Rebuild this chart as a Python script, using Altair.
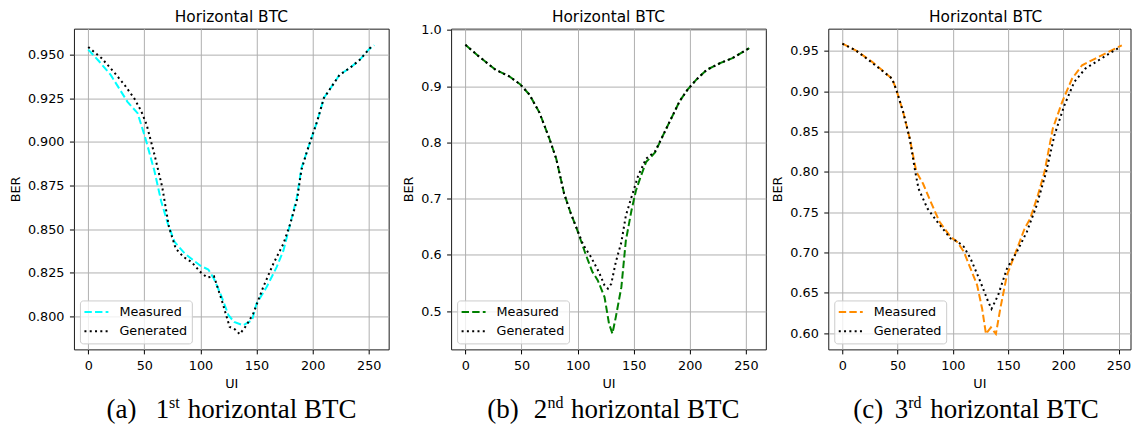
import altair as alt
import pandas as pd

# ---------------- data ----------------
ui_ticks = [0, 50, 100, 150, 200, 250]

p1_meas_x = [0, 10, 20, 35, 44, 51, 59, 65, 71, 77, 86, 92, 100, 107, 112, 119, 125, 130, 138, 146,
             150, 159, 168, 174, 180, 186, 190, 195, 199, 204, 210, 216, 224, 233, 242, 250, 255]
p1_meas_y = [0.953, 0.946, 0.9385, 0.923, 0.9165, 0.902, 0.8833, 0.866, 0.853, 0.8426, 0.836, 0.833,
             0.829, 0.8268, 0.8216, 0.811, 0.8006, 0.7967, 0.7948, 0.7977, 0.8073, 0.8168, 0.8283,
             0.8378, 0.853, 0.8684, 0.885, 0.8947, 0.9023, 0.9118, 0.9252, 0.9309, 0.9385, 0.9424,
             0.9471, 0.953, 0.9555]
p1_gen_x = [0, 12, 23, 32, 41, 47, 52, 59, 66, 72, 78, 85, 92, 100, 106, 112, 119, 126, 131, 135,
            141, 147, 156, 165, 174, 180, 186, 190, 195, 199, 204, 210, 216, 224, 233, 242, 252]
p1_gen_y = [0.9545, 0.948, 0.940, 0.933, 0.925, 0.918, 0.910, 0.8928, 0.8739, 0.851, 0.8388, 0.834,
            0.8311, 0.8254, 0.8222, 0.823, 0.8092, 0.7939, 0.7924, 0.7897, 0.7948, 0.8015, 0.8168,
            0.8302, 0.8417, 0.853, 0.8665, 0.884, 0.8947, 0.9023, 0.9118, 0.9252, 0.9309, 0.9385,
            0.9424, 0.9471, 0.9545]
p1_ticks = [0.800, 0.825, 0.850, 0.875, 0.900, 0.925, 0.950]

p2_meas_x = [0, 12, 27, 39, 49, 57, 66, 75, 81, 88, 94, 99, 107, 113, 118, 124, 128, 131, 134, 139,
             143, 148, 152, 156, 161, 169, 176, 183, 191, 198, 206, 215, 227, 238, 253]
p2_meas_y = [0.9735, 0.953, 0.929, 0.9176, 0.903, 0.8853, 0.853, 0.806, 0.7706, 0.7087, 0.6735,
             0.648, 0.602, 0.5706, 0.5546, 0.525, 0.4776, 0.46, 0.489, 0.5427, 0.6256, 0.679,
             0.7145, 0.738, 0.765, 0.782, 0.812, 0.841, 0.8735, 0.894, 0.912, 0.929, 0.941, 0.95,
             0.9676]
p2_gen_x = [0, 12, 27, 39, 49, 57, 66, 75, 81, 88, 94, 99, 105, 112, 119, 124, 127, 130, 134, 139,
            143, 148, 154, 161, 169, 176, 183, 191, 198, 206, 215, 227, 238, 253]
p2_gen_y = [0.9735, 0.953, 0.929, 0.9176, 0.903, 0.8853, 0.853, 0.806, 0.7706, 0.7087, 0.6735,
            0.648, 0.618, 0.596, 0.5693, 0.5457, 0.54, 0.5487, 0.587, 0.6226, 0.67, 0.7026, 0.741,
            0.771, 0.784, 0.812, 0.841, 0.8735, 0.894, 0.912, 0.929, 0.941, 0.95, 0.9676]
p2_ticks = [0.5, 0.6, 0.7, 0.8, 0.9, 1.0]

p3_meas_x = [0, 12, 27, 45, 49, 55, 61, 67, 73, 80, 88, 98, 104, 110, 116, 122, 126.5, 130, 134.5,
             139, 143, 149, 156, 165, 170, 177, 183, 190.5, 199, 208, 217, 229, 241, 253]
p3_meas_y = [0.959, 0.9508, 0.9364, 0.9157, 0.9012, 0.8744, 0.8413, 0.80, 0.7855, 0.7628, 0.738,
             0.7194, 0.7132, 0.7008, 0.6802, 0.6595, 0.6306, 0.599, 0.607, 0.599, 0.6306, 0.672,
             0.6967, 0.7297, 0.742, 0.771, 0.80, 0.8537, 0.8868, 0.9157, 0.9322, 0.9405, 0.9488,
             0.957]
p3_gen_x = [0, 12, 24, 45, 49, 55, 61, 66, 69, 77, 86, 98, 104, 110, 116, 125, 132, 135, 141, 149,
            158, 167, 176, 184.5, 192, 201, 210, 220, 232, 244, 252]
p3_gen_y = [0.959, 0.9508, 0.9384, 0.9157, 0.9012, 0.8744, 0.8413, 0.80, 0.779, 0.7546, 0.738,
            0.7173, 0.714, 0.707, 0.6926, 0.6636, 0.639, 0.630, 0.647, 0.680, 0.7008, 0.7256,
            0.7587, 0.80, 0.8455, 0.8826, 0.9116, 0.9281, 0.9384, 0.9488, 0.955]
p3_ticks = [0.60, 0.65, 0.70, 0.75, 0.80, 0.85, 0.90, 0.95]

series = ["Measured", "Generated"]
captions = [("(a)", "1", "st"), ("(b)", "2", "nd"), ("(c)", "3", "rd")]
caption_rest = "horizontal BTC"
panel_title = "Horizontal BTC"

# ---------------- styling / layout ----------------
H = 321
FS = 12.8          # tick / label / legend font size
CAP_F = 27
SUP_F = 16
CAP_Y = H + 69
# x offsets (from each plot's left edge) of caption pieces: label, number, superscript, rest
CAP_X = [[32.7, 82.0, 95.2, 114.0], [36.2, 82.7, 96.5, 120.0], [25.0, 66.5, 80.0, 102.0]]
LEG_SYMBOL = "M-1.1667,0H2.8333"


def text_layer(txt, x, y, **kw):
    return (alt.Chart(pd.DataFrame({"t": [txt]}))
            .mark_text(baseline="alphabetic", color="black", **kw)
            .encode(text="t:N", x=alt.value(x), y=alt.value(y)))


def caption_layers(cap, xs):
    lab, num, sup = cap
    parts = [(lab, CAP_F, 0), (num, CAP_F, 0), (sup, SUP_F, -10), (caption_rest, CAP_F, 0)]
    return [text_layer(txt, xx, CAP_Y, font="Liberation Serif", fontSize=fs, align="left", dy=dy)
            for (txt, fs, dy), xx in zip(parts, xs)]


def panel(mx, my, gx, gy, color, ydom, yticks, yfmt, cap, cap_x, width, xdom):
    df = pd.concat([
        pd.DataFrame({"UI": mx, "BER": my, "s": "Measured"}),
        pd.DataFrame({"UI": gx, "BER": gy, "s": "Generated"}),
    ])
    leg = alt.Legend(title=None, orient="bottom-left", offset=6, symbolType=LEG_SYMBOL,
                     symbolSize=144, symbolStrokeWidth=2, labelFontSize=FS,
                     labelFont="DejaVu Sans", labelColor="black", labelOffset=21,
                     padding=4.5, rowPadding=5.3, fillColor="rgba(255,255,255,0.8)",
                     strokeColor="#cccccc", cornerRadius=3)
    lines = alt.Chart(df).mark_line(strokeWidth=2, strokeCap="butt").encode(
        x=alt.X("UI:Q", scale=alt.Scale(domain=xdom, nice=False, zero=False),
                axis=alt.Axis(values=ui_ticks, title="UI", titlePadding=5, labelFlush=False)),
        y=alt.Y("BER:Q", scale=alt.Scale(domain=ydom, nice=False, zero=False),
                axis=alt.Axis(values=yticks, format=yfmt, title="BER", titlePadding=5.3,
                              labelFlush=False)),
        color=alt.Color("s:N", scale=alt.Scale(domain=series, range=[color, "black"]), legend=leg),
        strokeDash=alt.StrokeDash("s:N", scale=alt.Scale(domain=series,
                                                          range=[[7.4, 3.2], [2, 3.3]]),
                                  legend=leg),
        order=alt.Order("UI:Q"),
    )
    title = text_layer(panel_title, 157.5, -7, font="DejaVu Sans", fontSize=15.4, align="center")
    return alt.layer(lines, title, *caption_layers(cap, cap_x)).properties(width=width, height=H)


p1 = panel(p1_meas_x, p1_meas_y, p1_gen_x, p1_gen_y, "#00ffff", [0.781, 0.965], p1_ticks, ".3f",
           captions[0], CAP_X[0], 315, [-12.75, 267.75])
p2 = panel(p2_meas_x, p2_meas_y, p2_gen_x, p2_gen_y, "#008000", [0.432, 1.0023], p2_ticks, ".1f",
           captions[1], CAP_X[1], 315, [-12.75, 267.75])
p3 = panel(p3_meas_x, p3_meas_y, p3_gen_x, p3_gen_y, "#ff8c00", [0.5798, 0.9776], p3_ticks, ".2f",
           captions[2], CAP_X[2], 302.5, [-12.75, 260.85])

chart = (
    alt.hconcat(p1, p2, p3, spacing=62.5, bounds="flush")
    .resolve_scale(x="independent", y="independent", color="independent",
                   strokeDash="independent")
    .properties(padding={"left": 0, "top": 0.5, "right": 0, "bottom": 0})
    .configure_view(stroke="#1a1a1a", strokeWidth=1)
    .configure_axis(labelFont="DejaVu Sans", labelFontSize=FS, labelColor="black",
                    titleFont="DejaVu Sans", titleFontSize=FS, titleFontWeight="normal",
                    titleColor="black", tickColor="black", tickSize=4.5, tickWidth=1,
                    domain=False, gridColor="#b0b0b0", gridWidth=1, labelPadding=5.5)
)

chart.save("out.html", embed_options={"renderer": "svg", "actions": False})
